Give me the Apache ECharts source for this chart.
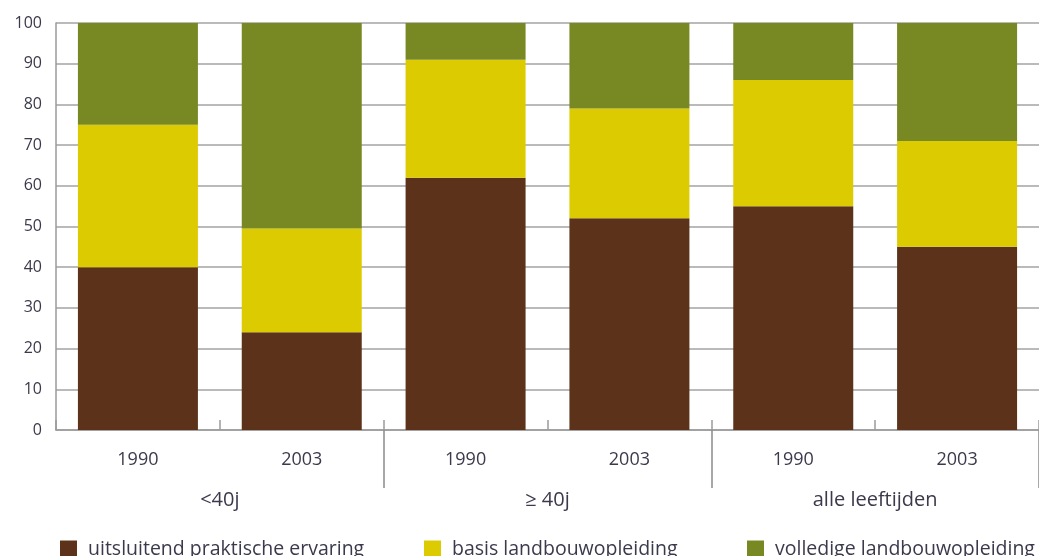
<!DOCTYPE html>
<html>
<head>
<meta charset="utf-8">
<script src="https://cdn.jsdelivr.net/npm/echarts@6/dist/echarts.min.js"></script>
<style>
  html, body { margin: 0; padding: 0; background: #fff; }
  #chart { width: 1039px; height: 556px; }
</style>
</head>
<body>
<div id="chart"></div>
<script>
// Opleidingsniveau van agrariërs naar leeftijdsgroep (procenten)
const years = ['1990', '2003', '1990', '2003', '1990', '2003'];
const groups = ['<40j', '≥ 40j', 'alle leeftijden'];
const yTicks = [0, 10, 20, 30, 40, 50, 60, 70, 80, 90, 100];

const praktisch = [40, 24, 62, 52, 55, 45];
const basis = [35, 25.5, 29, 27, 31, 26];
const volledig = [25, 50.5, 9, 21, 14, 29];

const seriesNames = ['uitsluitend praktische ervaring', 'basis landbouwopleiding', 'volledige landbouwopleiding'];
const seriesColors = ['#5c321a', '#dccb00', '#788823'];

const textColor = '#3a3a4c';
const font = 'Open Sans';

const chart = echarts.init(document.getElementById('chart'));

const legendLeft = [60, 424, 747];

chart.setOption({
  animation: false,
  textStyle: { fontFamily: font, color: textColor },
  grid: { left: 56, right: 0, top: 23, bottom: 126, containLabel: false },
  legend: seriesNames.map((n, i) => ({
    data: [n],
    left: legendLeft[i],
    top: 539,
    itemWidth: 17,
    itemHeight: 17,
    itemGap: 0,
    icon: 'rect',
    textStyle: { fontFamily: font, fontSize: 19.5, color: textColor, padding: [0, 0, 0, 6] },
    padding: 0,
    selectedMode: false
  })),
  xAxis: [
    {
      type: 'category',
      data: years,
      position: 'bottom',
      axisLine: { show: true, lineStyle: { color: '#9a9a9a', width: 1.5 } },
      axisTick: { show: true, inside: true, length: 10, lineStyle: { color: '#9a9a9a', width: 1.5 } },
      axisLabel: { margin: 21, fontSize: 18, color: textColor, fontFamily: font }
    },
    {
      type: 'category',
      data: groups,
      position: 'bottom',
      offset: 0,
      axisLine: { show: false },
      axisTick: {
        show: true,
        length: 58,
        interval: (idx) => idx !== 0,
        lineStyle: { color: '#8a8a8a', width: 1.5 }
      },
      axisLabel: { margin: 60, fontSize: 20, color: textColor, fontFamily: font }
    }
  ],
  yAxis: {
    type: 'value',
    min: yTicks[0],
    max: yTicks[yTicks.length - 1],
    interval: 10,
    axisLine: { show: true, lineStyle: { color: '#9a9a9a', width: 1.5 } },
    axisTick: { show: false },
    axisLabel: { margin: 14, fontSize: 16, color: textColor, fontFamily: font },
    splitLine: { show: true, lineStyle: { color: '#a3a3a3', width: 1.5 } }
  },
  series: [praktisch, basis, volledig].map((vals, i) => ({
    name: seriesNames[i],
    type: 'bar',
    stack: 'totaal',
    xAxisIndex: 0,
    barWidth: 120,
    itemStyle: { color: seriesColors[i] },
    data: vals
  }))
});
</script>
</body>
</html>
